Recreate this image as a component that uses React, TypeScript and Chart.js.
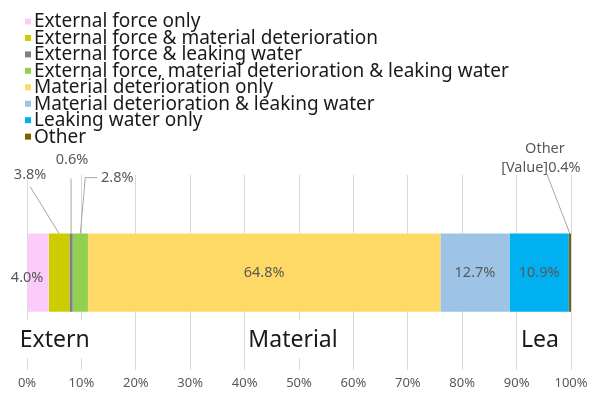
import React, { useEffect, useRef } from 'react';
import { Chart, registerables } from 'chart.js';

Chart.register(...registerables);

// ---------- data ----------
const categories = ['All'];
const seriesNames = [
  'External force only',
  'External force & material deterioration',
  'External force & leaking water',
  'External force, material deterioration & leaking water',
  'Material deterioration only',
  'Material deterioration & leaking water',
  'Leaking water only',
  'Other',
];
const seriesValues = [4.0, 3.8, 0.6, 2.8, 64.8, 12.7, 10.9, 0.4];
const seriesColors = ['#FBCBFA', '#CCCC00', '#808080', '#92D050', '#FFD966', '#9DC3E6', '#00B0F0', '#7F6000'];
const labelTexts = ['4.0%', '3.8%', '0.6%', '2.8%', '64.8%', '12.7%', '10.9%', '[Value]0.4%'];
const tickValues = [0, 10, 20, 30, 40, 50, 60, 70, 80, 90, 100];
const bigLabels = ['Extern', 'Material', 'Lea'];
const bigLabelAt = [5.1, 48.9, 94.3];

// ---------- label placement (style) ----------
type LabelStyle =
  | { kind: 'inside'; dx: number; dy: number }
  | { kind: 'callout'; tx: number; ty: number; path: [number, number][]; extra?: string; ey?: number };
const labelStyles: LabelStyle[] = [
  { kind: 'inside', dx: -11, dy: 5 },
  { kind: 'callout', tx: -29, ty: -59, path: [[-29, -47], [0, 0]] },
  { kind: 'callout', tx: 1, ty: -74, path: [[0, -55], [0, 0]] },
  { kind: 'callout', tx: 37, ty: -56, path: [[17, -56], [5, -56], [0, 0]] },
  { kind: 'inside', dx: 0, dy: 0 },
  { kind: 'inside', dx: 0, dy: 0 },
  { kind: 'inside', dx: 0, dy: 0 },
  { kind: 'callout', tx: -29, ty: -66, path: [[-24, -62], [0, 0]], extra: 'Other', ey: -85 },
];

const FONT = '"Noto Sans", "Open Sans", sans-serif';

const overlayPlugin = {
  id: 'overlay',
  afterDraw(chart: any) {
    const ctx: CanvasRenderingContext2D = chart.ctx;
    ctx.save();
    // legend
    ctx.textBaseline = 'middle';
    ctx.textAlign = 'left';
    ctx.font = `19px ${FONT}`;
    chart.data.datasets.forEach((ds: any, i: number) => {
      const y = 21.5 + i * 16.45;
      ctx.fillStyle = ds.backgroundColor;
      ctx.fillRect(25, y - 3, 6, 6);
      ctx.fillStyle = '#1a1a1a';
      ctx.fillText(ds.label, 34, y + 0.5);
    });

    // data labels
    ctx.font = `14.5px ${FONT}`;
    ctx.textAlign = 'center';
    chart.data.datasets.forEach((ds: any, i: number) => {
      const el = chart.getDatasetMeta(i).data[0];
      if (!el) return;
      const cx = (el.x + el.base) / 2;
      const top = el.y - el.height / 2;
      const st = labelStyles[i];
      ctx.fillStyle = '#595959';
      if (st.kind === 'inside') {
        ctx.fillText(labelTexts[i], cx + st.dx, el.y + st.dy);
      } else {
        ctx.fillText(labelTexts[i], cx + st.tx, top + st.ty);
        if (st.extra) ctx.fillText(st.extra, cx + st.tx + 4, top + (st.ey || 0));
        ctx.strokeStyle = '#a6a6a6';
        ctx.lineWidth = 1;
        ctx.beginPath();
        st.path.forEach(([px, py], k) => {
          const X = cx + px, Y = top + py;
          if (k === 0) ctx.moveTo(X, Y); else ctx.lineTo(X, Y);
        });
        ctx.stroke();
      }
    });

    // big category-like labels
    const xs = chart.scales.x;
    ctx.font = `23px ${FONT}`;
    ctx.textAlign = 'center';
    bigLabels.forEach((t, i) => {
      const x = xs.getPixelForValue(bigLabelAt[i]);
      const w = ctx.measureText(t).width;
      ctx.fillStyle = '#ffffff';
      ctx.fillRect(x - w / 2 - 3, 320, w + 6, 38);
      ctx.fillStyle = '#1a1a1a';
      ctx.fillText(t, x, 340);
    });
    ctx.restore();
  },
};

export default function App() {
  const ref = useRef<HTMLCanvasElement | null>(null);
  useEffect(() => {
    document.body.style.margin = '0';
    const canvas = ref.current!;
    const chart = new Chart(canvas, {
      type: 'bar',
      data: {
        labels: categories,
        datasets: seriesNames.map((name, i) => ({
          label: name,
          data: [seriesValues[i]],
          backgroundColor: seriesColors[i],
          borderWidth: 0,
          barPercentage: 0.4,
          categoryPercentage: 1,
        })),
      },
      options: {
        indexAxis: 'y',
        responsive: false,
        animation: false,
        devicePixelRatio: 1,
        layout: { padding: { top: 175, left: 27, right: 26, bottom: 0 } },
        plugins: { legend: { display: false }, tooltip: { enabled: false } },
        scales: {
          x: {
            stacked: true,
            min: 0,
            max: 100,
            afterBuildTicks: (s: any) => {
              s.ticks = tickValues.map((v) => ({ value: v }));
            },
            ticks: {
              callback: (v: any) => `${v}%`,
              color: '#595959',
              font: { size: 13, family: FONT },
              padding: 5,
            },
            grid: { color: '#d9d9d9', lineWidth: 1, drawTicks: false },
            border: { display: false },
          },
          y: { stacked: true, display: false },
        },
      },
      plugins: [overlayPlugin],
    });
    return () => chart.destroy();
  }, []);
  return (
    <div style={{ position: 'fixed', left: 0, top: 0, width: 597, height: 396, background: '#fff' }}>
      <canvas ref={ref} width={597} height={396} style={{ width: 597, height: 396 }} />
    </div>
  );
}
